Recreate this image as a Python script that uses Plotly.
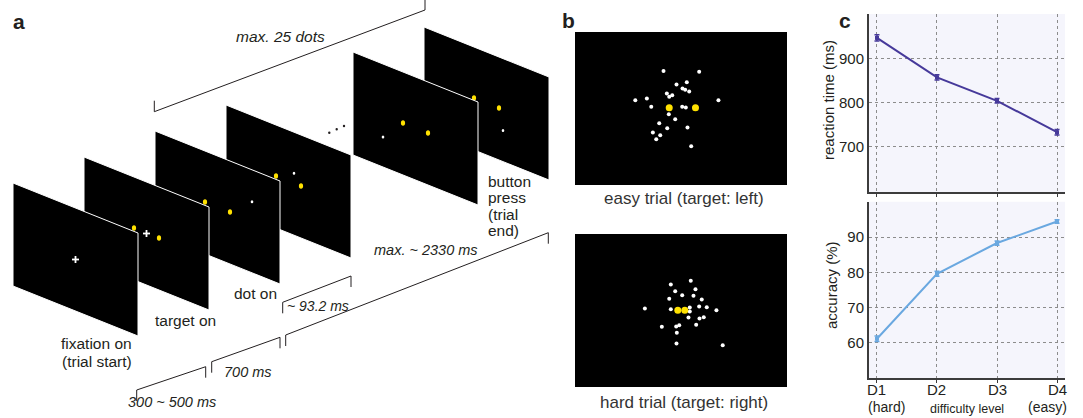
import plotly.graph_objects as go

W, H = 1083, 418
FONT = "Liberation Sans, Arial, Helvetica, sans-serif"
INK = "#231F20"

# ---------------- panel c data ----------------
levels = ["D1", "D2", "D3", "D4"]
level_notes = ["(hard)", "", "", "(easy)"]
level_x = [1, 2, 3, 4]
rt_ms = [946, 857, 804, 733]
rt_err = [7, 6, 5, 6]
acc_pct = [61.2, 79.6, 88.3, 94.4]
acc_err = [0.8, 0.7, 0.6, 0.5]
rt_ticks = [700, 800, 900]
acc_ticks = [60, 70, 80, 90]

# ---------------- panel b data (dot positions rel. to screen centre) ----------------
easy_white_x = [-17.5, 18.2, 5.8, -4.5, 1.5, 4.2, 8.2, -14.2, -8.8, -11.8, -45.8, -34.2, 37.5,
                -29.8, 1.2, 4.8, -12.2, -5.8, -21.8, -13.8, 6.5, -28.2, -20.8, -24.8, 10.2]
easy_white_y = [37.3, 36.7, 26.3, 24.0, 20.0, 18.7, 17.0, 15.0, 13.3, 11.7, 8.3, 10.0, 8.3,
                1.7, 1.7, 1.0, -5.7, -10.7, -14.7, -19.7, -19.0, -24.0, -26.7, -30.7, -37.7]
easy_target_x = [-11.8, 14.5]
easy_target_y = [0.7, 0.7]
hard_white_x = [9.8, -10.2, 14.5, -5.8, 1.2, 12.5, -11.8, 20.8, -36.2, -10.2, 8.8, 18.2, 25.8,
                35.5, 8.8, 7.5, 18.5, 22.8, -19.2, -4.8, -1.8, 15.2, -4.2, -4.5, 41.8]
hard_white_y = [29.7, 26.0, 21.3, 19.3, 15.3, 14.7, 11.7, 11.0, 2.0, 1.3, 3.0, 4.0, 3.3,
                0.3, -1.0, -7.0, -8.0, -6.7, -16.3, -16.0, -14.7, -14.3, -22.3, -33.0, -34.7]
hard_target_x = [-3.2, 3.8]
hard_target_y = [0.3, 0.3]
screen_half_w, screen_half_h = 106.2, 76.3

# ---------------- panel a schematic ----------------
screen_x0 = [13, 84, 155, 226, 353, 424]
screen_y0 = [183, 157, 131, 105, 52, 27]
SW, SH, SK = 125, 103, 0.4
has_cross = [True, True, False, False, False, False]
has_targets = [False, True, True, True, True, True]
target_u = [50, 75]
target_v = 51
probe_u = [None, None, 97, 68, 30, 79]
probe_v = [None, None, 32, 41, 73, 72]

brackets = [  # (x_left, y_left, x_right, y_right, tick)
    (154.3, 111.7, 425, 10, 11),
    (136.7, 390, 205.7, 366.7, -11),
    (211.7, 361.7, 280, 337.3, -11),
    (282.7, 302.3, 351, 276, -11),
    (285.7, 335, 548.3, 232.7, -11),
]
# timing labels: (text, x, y, font size)
timing_labels = [
    ("max. 25 dots", 280, 36, 15.5),
    ("300 ~ 500 ms", 172, 402, 14.5),
    ("700 ms", 248, 372, 14.5),
    ("~ 93.2 ms", 318, 305.5, 14),
    ("max. ~ 2330 ms", 426, 250, 14.5),
]
# event labels: (text, x, y, x-anchor)
event_labels = [
    ("fixation on", 96.7, 343, "center"),
    ("(trial start)", 97, 361, "center"),
    ("target on", 185, 320, "center"),
    ("dot on", 255, 293, "center"),
    ("button", 486, 181, "left"),
    ("press", 486, 197.5, "left"),
    ("(trial", 486, 214, "left"),
    ("end)", 486, 230.5, "left"),
]
ellipsis_x = [329.3, 336.7, 344]
ellipsis_y = [132.7, 129.3, 126]

fig = go.Figure()
shapes = []
annotations = []


def to_canvas(i, u, v):
    return screen_x0[i] + u, screen_y0[i] + SK * u + v


for i in reversed(range(len(screen_x0))):
    x0, y0 = screen_x0[i], screen_y0[i]
    path = (f"M {x0},{y0} L {x0 + SW},{y0 + SK * SW} L {x0 + SW},{y0 + SK * SW + SH} "
            f"L {x0},{y0 + SH} Z")
    shapes.append(dict(type="path", path=path, xref="x", yref="y", fillcolor="black",
                       line=dict(color="white", width=1), layer="below"))
    if has_targets[i]:
        for u in target_u:
            cx, cy = to_canvas(i, u, target_v)
            shapes.append(dict(type="circle", xref="x", yref="y", x0=cx - 2.1, x1=cx + 2.1,
                               y0=cy - 2.8, y1=cy + 2.8, fillcolor="#FFE100",
                               line=dict(width=0), layer="below"))
    if has_cross[i]:
        cx, cy = to_canvas(i, SW / 2, SH / 2)
        shapes.append(dict(type="line", xref="x", yref="y", x0=cx - 3.5, x1=cx + 3.5, y0=cy, y1=cy,
                           line=dict(color="white", width=1.8), layer="below"))
        shapes.append(dict(type="line", xref="x", yref="y", x0=cx, x1=cx, y0=cy - 3.5, y1=cy + 3.5,
                           line=dict(color="white", width=1.8), layer="below"))
    if probe_u[i] is not None:
        cx, cy = to_canvas(i, probe_u[i], probe_v[i])
        shapes.append(dict(type="circle", xref="x", yref="y", x0=cx - 1.3, x1=cx + 1.3,
                           y0=cy - 1.5, y1=cy + 1.5, fillcolor="white",
                           line=dict(width=0), layer="below"))

for (xl, yl, xr, yr, t) in brackets:
    path = f"M {xl},{yl - t} L {xl},{yl} L {xr},{yr} L {xr},{yr - t}"
    shapes.append(dict(type="path", path=path, xref="x", yref="y",
                       line=dict(color=INK, width=1), layer="below"))

for ex, ey in zip(ellipsis_x, ellipsis_y):
    shapes.append(dict(type="circle", xref="x", yref="y", x0=ex - 1.2, x1=ex + 1.2,
                       y0=ey - 1.2, y1=ey + 1.2, fillcolor=INK, line=dict(width=0),
                       layer="below"))

for txt, x, y, fs in timing_labels:
    annotations.append(dict(text=f"<i>{txt}</i>", x=x, y=y, xref="x", yref="y",
                            showarrow=False, xanchor="center", yanchor="middle",
                            font=dict(family=FONT, size=fs, color=INK)))
for txt, x, y, xa in event_labels:
    annotations.append(dict(text=txt, x=x, y=y, xref="x", yref="y",
                            showarrow=False, xanchor=xa, yanchor="middle",
                            font=dict(family=FONT, size=15.5, color=INK)))

# panel letters
for letter, x, y in [("a", 19, 21), ("b", 568, 20), ("c", 845, 20)]:
    annotations.append(dict(text=f"<b>{letter}</b>", x=x, y=y, xref="x", yref="y",
                            showarrow=False, xanchor="center", yanchor="middle",
                            font=dict(family=FONT, size=21, color=INK)))

# canvas axis (pixel coordinates)
fig.add_trace(go.Scatter(x=[0], y=[0], mode="markers", marker=dict(opacity=0),
                         hoverinfo="skip", showlegend=False, xaxis="x", yaxis="y"))

# ---------------- panel b ----------------
b_specs = [
    ("x2", "y2", easy_white_x, easy_white_y, easy_target_x, easy_target_y,
     "easy trial (target: left)", 198.5),
    ("x3", "y3", hard_white_x, hard_white_y, hard_target_x, hard_target_y,
     "hard trial (target: right)", 402.5),
]
for xa, ya, wx, wy, tx, ty, cap, capy in b_specs:
    shapes.append(dict(type="rect", xref=f"{xa} domain", yref=f"{ya} domain", x0=0, x1=1,
                       y0=0, y1=1, fillcolor="black", line=dict(width=0), layer="below"))
    fig.add_trace(go.Scatter(x=wx, y=wy, mode="markers", xaxis=xa, yaxis=ya,
                             marker=dict(color="white", size=4, line=dict(width=0)),
                             hoverinfo="skip", showlegend=False))
    fig.add_trace(go.Scatter(x=tx, y=ty, mode="markers", xaxis=xa, yaxis=ya,
                             marker=dict(color="#FFE100", size=7, line=dict(width=0)),
                             hoverinfo="skip", showlegend=False))
    annotations.append(dict(text=cap, x=684, y=capy, xref="x", yref="y", showarrow=False,
                            xanchor="center", yanchor="middle",
                            font=dict(family=FONT, size=17, color="#333333")))

# ---------------- panel c ----------------
RT_COLOR = "#46399A"
ACC_COLOR = "#6AA8E0"
for xa, ya in [("x4", "y4"), ("x5", "y5")]:
    shapes.append(dict(type="rect", xref=f"{xa} domain", yref=f"{ya} domain", x0=0, x1=1,
                       y0=0, y1=1, fillcolor="#F5F5FC", line=dict(width=0), layer="below"))
fig.add_trace(go.Scatter(x=level_x, y=rt_ms, mode="lines+markers", xaxis="x4", yaxis="y4",
                         line=dict(color=RT_COLOR, width=2),
                         marker=dict(color=RT_COLOR, size=4, symbol="square"),
                         error_y=dict(type="data", array=rt_err, color=RT_COLOR, thickness=1.5,
                                      width=2.5),
                         hoverinfo="skip", showlegend=False))
fig.add_trace(go.Scatter(x=level_x, y=acc_pct, mode="lines+markers", xaxis="x5", yaxis="y5",
                         line=dict(color=ACC_COLOR, width=2),
                         marker=dict(color=ACC_COLOR, size=4, symbol="square"),
                         error_y=dict(type="data", array=acc_err, color=ACC_COLOR, thickness=1.5,
                                      width=2.5),
                         hoverinfo="skip", showlegend=False))

for lx, lev in zip(level_x, levels):
    annotations.append(dict(text=lev, x=lx, y=389, xref="x5", yref="y", showarrow=False,
                            xanchor="center", yanchor="middle",
                            font=dict(family=FONT, size=15, color=INK)))
annotations += [
    dict(text="reaction time (ms)", x=828, y=100, xref="x", yref="y", textangle=-90,
         showarrow=False, xanchor="center", yanchor="middle",
         font=dict(family=FONT, size=15, color=INK)),
    dict(text="accuracy (%)", x=831, y=285, xref="x", yref="y", textangle=-90,
         showarrow=False, xanchor="center", yanchor="middle",
         font=dict(family=FONT, size=15, color=INK)),
    dict(text=level_notes[0], x=866, y=406.5, xref="x", yref="y", showarrow=False,
         xanchor="left", yanchor="middle", font=dict(family=FONT, size=14, color=INK)),
    dict(text=level_notes[3], x=1069, y=406.5, xref="x", yref="y", showarrow=False,
         xanchor="right", yanchor="middle", font=dict(family=FONT, size=14, color=INK)),
    dict(text="difficulty level", x=2.5, y=408.5, xref="x5", yref="y", showarrow=False,
         xanchor="center", yanchor="middle", font=dict(family=FONT, size=12.5, color=INK)),
]

c_xdom = [869 / W, 1065 / W]
grid = dict(showgrid=True, gridcolor="#8C8C8C", gridwidth=1, griddash="dot", zeroline=False)
axline = dict(showline=True, linecolor="#3C3C3C", linewidth=2, mirror=False)

fig.update_layout(
    width=W, height=H, autosize=False,
    margin=dict(l=0, r=0, t=0, b=0, pad=0),
    paper_bgcolor="white", plot_bgcolor="rgba(0,0,0,0)",
    showlegend=False,
    shapes=shapes, annotations=annotations,
    xaxis=dict(domain=[0, 1], range=[0, W], visible=False, fixedrange=True),
    yaxis=dict(domain=[0, 1], range=[H, 0], visible=False, fixedrange=True),
    xaxis2=dict(domain=[575 / W, 787 / W], range=[-screen_half_w, screen_half_w], visible=False,
                anchor="y2"),
    yaxis2=dict(domain=[1 - 185 / H, 1 - 32 / H], range=[-screen_half_h, screen_half_h],
                visible=False, anchor="x2"),
    xaxis3=dict(domain=[575 / W, 787 / W], range=[-screen_half_w, screen_half_w], visible=False,
                anchor="y3"),
    yaxis3=dict(domain=[1 - 387 / H, 1 - 234 / H], range=[-screen_half_h, screen_half_h],
                visible=False, anchor="x3"),
    xaxis4=dict(domain=c_xdom, range=[0.867, 4.133], anchor="y4", tickvals=level_x,
                showticklabels=False, ticks="outside", ticklen=3, tickcolor="#3C3C3C",
                **grid, **axline),
    yaxis4=dict(domain=[1 - 192 / H, 1 - 14 / H], range=[598, 1000], anchor="x4",
                tickvals=rt_ticks, ticks="", tickfont=dict(family=FONT, size=15, color=INK),
                **grid, **axline),
    xaxis5=dict(domain=c_xdom, range=[0.867, 4.133], anchor="y5", tickvals=level_x,
                showticklabels=False, ticks="outside", ticklen=3, tickcolor="#3C3C3C",
                **grid, **axline),
    yaxis5=dict(domain=[1 - 378.3 / H, 1 - 201.7 / H], range=[50, 100], anchor="x5",
                tickvals=acc_ticks, ticks="", tickfont=dict(family=FONT, size=15, color=INK),
                **grid, **axline),
)

fig.write_html("out.html")
